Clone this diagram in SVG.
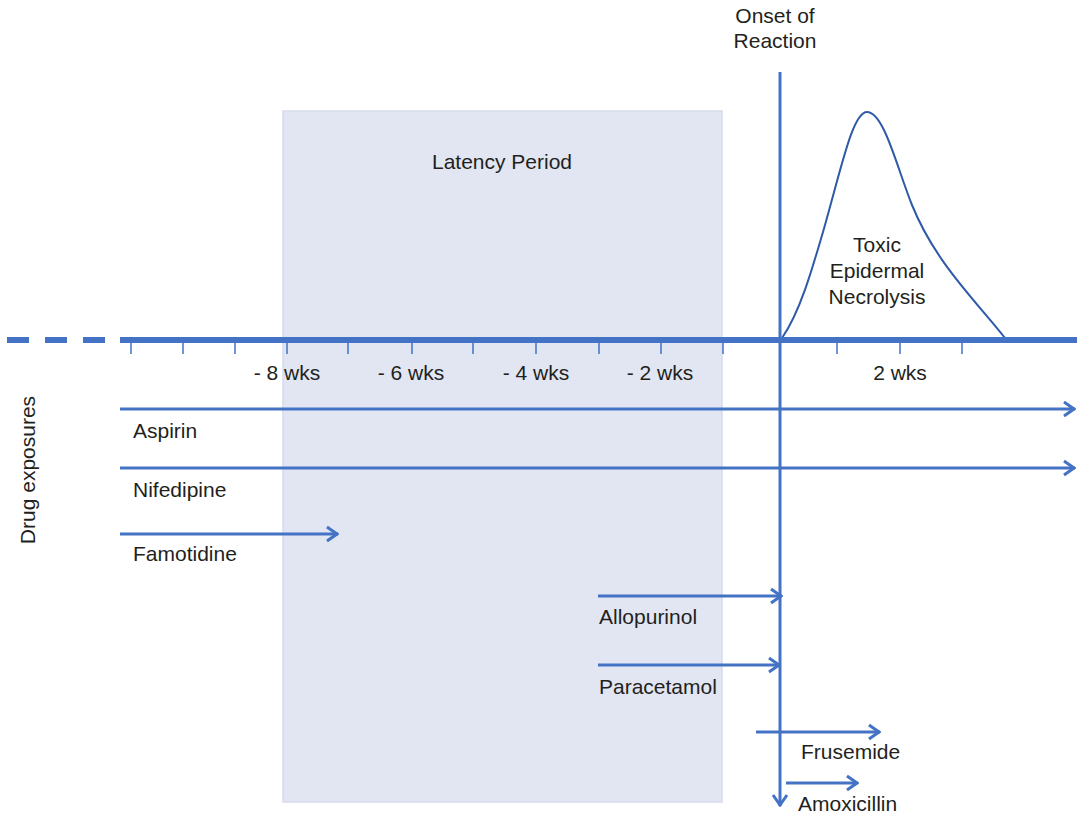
<svg xmlns="http://www.w3.org/2000/svg" width="1077" height="816" viewBox="0 0 1077 816">
<defs>
<style>
.t{font-family:"Liberation Sans",Arial,sans-serif;font-size:21px;fill:#231f20}
.m{text-anchor:middle}
.ln{stroke:#4472c4;stroke-width:3;fill:none}
.tk{stroke:#4472c4;stroke-width:1.5}
</style>
<marker id="ah" viewBox="0 0 14 18" refX="13" refY="9" markerWidth="14" markerHeight="18" markerUnits="userSpaceOnUse" orient="auto">
<path d="M2,2 L12,9 L2,16" fill="none" stroke="#4472c4" stroke-width="3"/>
</marker>
</defs>
<rect width="1077" height="816" fill="#fff"/>
<g id="latency">
<rect x="283" y="111" width="439" height="691" fill="#e1e6f2" stroke="#d6dcec" stroke-width="1.5"/>
<text class="t m" x="502" y="169">Latency Period</text>
</g>
<g id="ten">
<path d="M782,338 C800,312 812,270 825,225 C842,165 853,112 867,112 C884,112 897,168 912,205 C935,262 975,300 1005,338" fill="none" stroke="#2f5aa8" stroke-width="2"/>
<text class="t m" x="877" y="252">Toxic</text>
<text class="t m" x="877" y="278">Epidermal</text>
<text class="t m" x="877" y="304">Necrolysis</text>
</g>
<g id="axis">
<path d="M7,340 H120" stroke="#4472c4" stroke-width="6" stroke-dasharray="22,16"/>
<path d="M120,340 H1077" stroke="#4472c4" stroke-width="6"/>
<path class="tk" d="M131,343V354M183,343V354M235,343V354M287,343V354M348,343V354M412,343V354M473,343V354M536,343V354M599,343V354M661,343V354M723,343V354M837,343V354M900,343V354M962,343V354"/>
<text class="t m" x="287" y="380">- 8 wks</text>
<text class="t m" x="411" y="380">- 6 wks</text>
<text class="t m" x="536" y="380">- 4 wks</text>
<text class="t m" x="660" y="380">- 2 wks</text>
<text class="t m" x="900" y="380">2 wks</text>
</g>
<g id="onset">
<text class="t m" x="775" y="23">Onset of</text>
<text class="t m" x="775" y="48">Reaction</text>
</g>
<g id="drugs-label">
<text class="t m" transform="translate(35,470) rotate(-90)">Drug exposures</text>
</g>
<g id="connectors">
<path class="ln" d="M780,72 V806" marker-end="url(#ah)"/>
<path class="ln" d="M120,409 H1075" marker-end="url(#ah)"/>
<path class="ln" d="M120,468 H1075" marker-end="url(#ah)"/>
<path class="ln" d="M120,534 H338" marker-end="url(#ah)"/>
<path class="ln" d="M598,596 H782" marker-end="url(#ah)"/>
<path class="ln" d="M598,665 H780" marker-end="url(#ah)"/>
<path class="ln" d="M756,732 H880" marker-end="url(#ah)"/>
<path class="ln" d="M786,783 H858" marker-end="url(#ah)"/>
</g>
<g id="aspirin"><text class="t" x="133" y="438">Aspirin</text></g>
<g id="nifedipine"><text class="t" x="133" y="497">Nifedipine</text></g>
<g id="famotidine"><text class="t" x="133" y="561">Famotidine</text></g>
<g id="allopurinol"><text class="t" x="599" y="624">Allopurinol</text></g>
<g id="paracetamol"><text class="t" x="599" y="694">Paracetamol</text></g>
<g id="frusemide"><text class="t" x="801" y="759">Frusemide</text></g>
<g id="amoxicillin"><text class="t" x="798" y="811">Amoxicillin</text></g>
</svg>
